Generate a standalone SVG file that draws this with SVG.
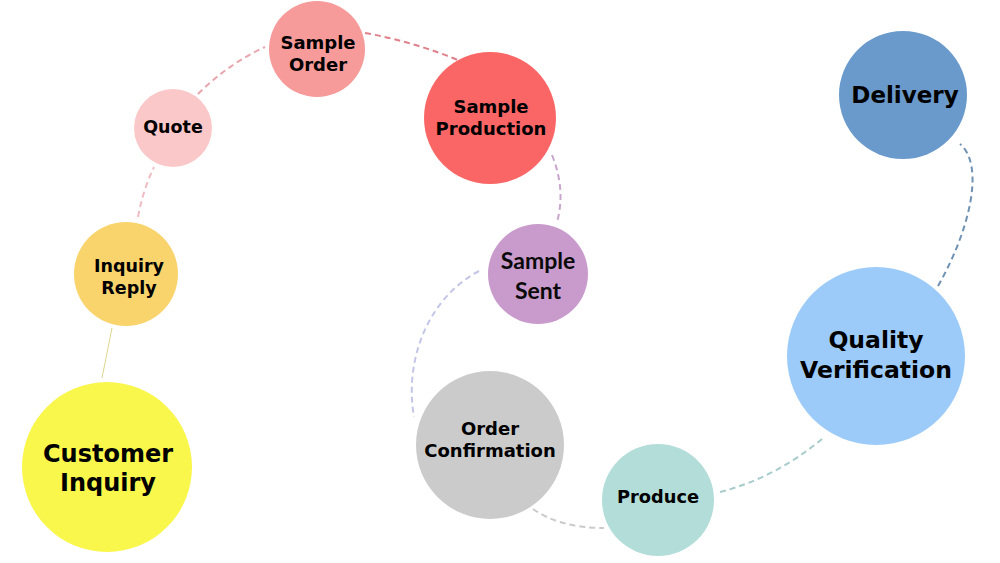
<svg xmlns="http://www.w3.org/2000/svg" width="1000" height="563" viewBox="0 0 1000 563">
<style>
.lbl{font-family:"DejaVu Sans",Verdana,sans-serif;font-weight:bold;fill:#000;text-anchor:middle}
.lato{font-family:Lato,"Liberation Sans",sans-serif;font-weight:bold;fill:#0a0a0a;text-anchor:middle}
.dash{fill:none;stroke-width:2;stroke-dasharray:6 4}
</style>
<rect width="1000" height="563" fill="#ffffff"/>
<g id="connectors">
<path d="M102,378 L112,328" fill="none" stroke="#dcd68e" stroke-width="1"/>
<path class="dash" d="M138,217 Q143,190 154,167" stroke="#f0bcc2"/>
<path class="dash" d="M198,94 Q228,64 265,47" stroke="#eaa4ac"/>
<path class="dash" d="M365,33 Q415,42 460,61" stroke="#e0808a"/>
<path class="dash" d="M552,155 Q566,190 557,222" stroke="#c8a6cc"/>
<path class="dash" d="M479,271 C428,298 404,360 414,417" stroke="#c4c6e8"/>
<path class="dash" d="M533,509 Q560,528 604,528" stroke="#cacaca"/>
<path class="dash" d="M720,492 Q775,478 822,439" stroke="#a8cccc"/>
<path class="dash" d="M938,286 C970,230 985,165 960,144" stroke="#7092b4"/>
</g>
<g id="customer-inquiry">
<circle cx="107" cy="467" r="85" fill="#f9f64c"/>
<text class="lbl" x="108" y="462" font-size="24">Customer</text>
<text class="lbl" x="108" y="491" font-size="24">Inquiry</text>
</g>
<g id="inquiry-reply">
<circle cx="126" cy="274" r="52" fill="#f9d46c"/>
<text class="lbl" x="129" y="272" font-size="17.5">Inquiry</text>
<text class="lbl" x="129" y="294" font-size="17.5">Reply</text>
</g>
<g id="quote">
<circle cx="173" cy="128" r="39" fill="#fbc8c9"/>
<text class="lbl" x="173" y="133" font-size="17.5">Quote</text>
</g>
<g id="sample-order">
<circle cx="317" cy="49" r="48" fill="#f69a9a"/>
<text class="lbl" x="318" y="49" font-size="18">Sample</text>
<text class="lbl" x="318" y="71" font-size="18">Order</text>
</g>
<g id="sample-production">
<circle cx="490" cy="118" r="66" fill="#fa6565"/>
<text class="lbl" x="491" y="113" font-size="18">Sample</text>
<text class="lbl" x="491" y="135" font-size="18">Production</text>
</g>
<g id="sample-sent">
<circle cx="538" cy="274" r="50" fill="#c99bcc"/>
<text class="lato" x="538" y="269" font-size="23">Sample</text>
<text class="lato" x="538" y="299" font-size="23">Sent</text>
</g>
<g id="order-confirmation">
<circle cx="490" cy="445" r="74" fill="#cbcbcb"/>
<text class="lbl" x="490" y="435" font-size="18">Order</text>
<text class="lbl" x="490" y="457" font-size="18">Confirmation</text>
</g>
<g id="produce">
<circle cx="658" cy="500" r="56" fill="#b3ddd9"/>
<text class="lbl" x="658" y="503" font-size="17.8">Produce</text>
</g>
<g id="quality-verification">
<circle cx="876" cy="356" r="89" fill="#9ccbf9"/>
<text class="lbl" x="876" y="348" font-size="23.5">Quality</text>
<text class="lbl" x="876" y="378" font-size="23.5">Verification</text>
</g>
<g id="delivery">
<circle cx="903" cy="95" r="64" fill="#6a9acb"/>
<text class="lbl" x="905" y="103" font-size="23">Delivery</text>
</g>
</svg>
